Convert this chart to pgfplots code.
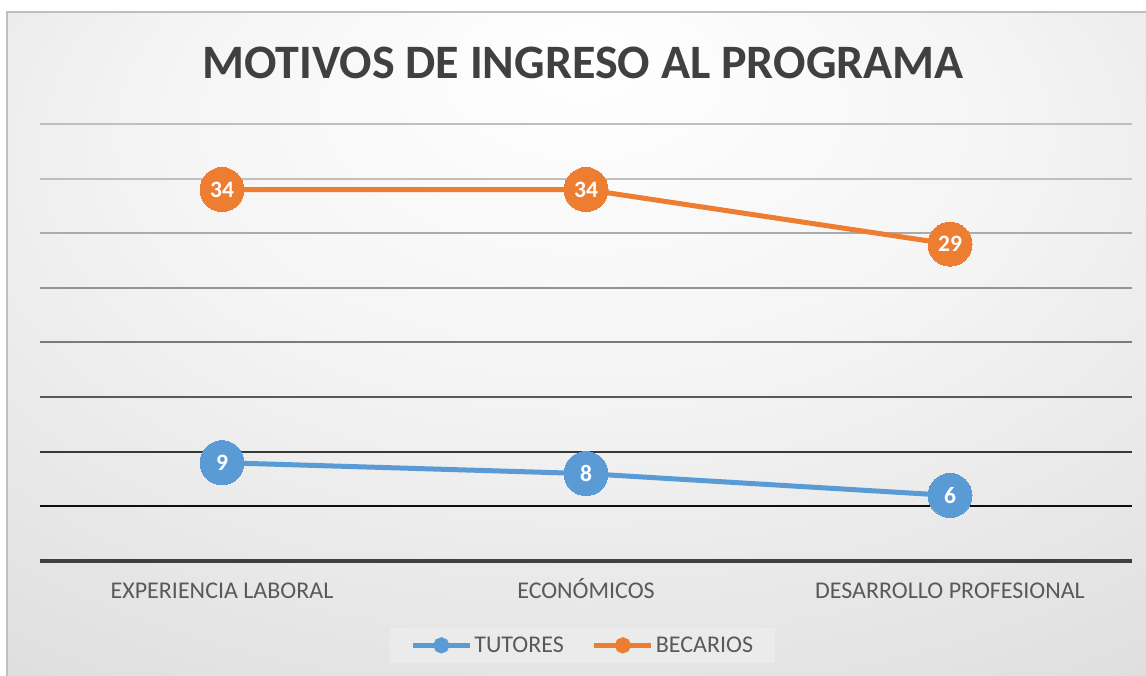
\documentclass[border=0pt]{standalone}
\usepackage{pgfplots}
\pgfplotsset{compat=1.18}
\usepackage{fontspec}
\setmainfont{Carlito}
\definecolor{tutblue}{HTML}{5B9BD5}
\definecolor{becorange}{HTML}{ED7D31}
\definecolor{txtgray}{HTML}{595959}
\definecolor{titlegray}{HTML}{404040}
\definecolor{framegray}{HTML}{BFBFBF}
\definecolor{legfill}{HTML}{EBEBEB}
\pgfdeclareradialshading{chartbg}{\pgfpoint{0bp}{22bp}}{%
  color(0bp)=(white); color(18bp)=(white!96!black); color(45bp)=(white!86!black); color(70bp)=(white!82!black)}

\begin{document}
\begin{tikzpicture}[x=1pt,y=1pt]
\useasboundingbox (0,0) rectangle (1146,676);
\clip (0,0) rectangle (1146,676);
\fill[white] (0,0) rectangle (1146,676);
\shade[shading=chartbg] (7,-10) rectangle (1160,664);
\draw[framegray, line width=1.5pt] (7,-10) -- (7,664) -- (1160,664);

\begin{axis}[
  at={(40pt,115pt)}, anchor=south west,
  scale only axis, width=1092pt, height=437pt,
  xmin=-0.5, xmax=2.5, ymin=0, ymax=40,
  axis line style={draw=none},
  xtick={0,1,2},
  xticklabels={EXPERIENCIA LABORAL, ECONÓMICOS, DESARROLLO PROFESIONAL},
  ytick=\empty,
  major tick length=0pt,
  xticklabel style={font=\fontsize{24}{24}\selectfont, text=txtgray, anchor=base, yshift=-38pt},
  clip=false,
  /pgf/number format/assume math mode=true,
  nodes near coords,
  every node near coord/.append style={anchor=center, text=white, font=\bfseries\fontsize{23.5}{23.5}\selectfont},
  legend columns=2,
  legend style={at={(0.497,-0.193)}, anchor=center, draw=none, fill=legfill,
    font=\fontsize{24}{24}\selectfont, text=txtgray, inner xsep=20pt, inner ysep=7pt,
    /tikz/every even column/.append style={column sep=26pt}},
  legend image code/.code={
    \draw[#1, mark=none] (0pt,0pt) -- (57pt,0pt);
    \fill[#1] (28.5pt,0pt) circle (5.5pt);
  },
]
% gridlines, darker toward the bottom
\draw[framegray, line width=2pt] (axis cs:-0.5,40) -- (axis cs:2.5,40);
\draw[white!75!black, line width=2pt] (axis cs:-0.5,35) -- (axis cs:2.5,35);
\draw[white!67!black, line width=2pt] (axis cs:-0.5,30) -- (axis cs:2.5,30);
\draw[white!58!black, line width=2pt] (axis cs:-0.5,25) -- (axis cs:2.5,25);
\draw[white!48!black, line width=2pt] (axis cs:-0.5,20) -- (axis cs:2.5,20);
\draw[white!35!black, line width=2pt] (axis cs:-0.5,15) -- (axis cs:2.5,15);
\draw[white!22!black, line width=2pt] (axis cs:-0.5,10) -- (axis cs:2.5,10);
\draw[white!6!black, line width=2pt] (axis cs:-0.5,5) -- (axis cs:2.5,5);
\draw[titlegray, line width=3.5pt] (axis cs:-0.5,0) -- (axis cs:2.5,0);

\addplot[tutblue, line width=5pt, mark=*, mark size=22pt, mark options={line width=0pt}]
  coordinates {(0,9) (1,8) (2,6)};
\addlegendentry{TUTORES}
\addplot[becorange, line width=5pt, mark=*, mark size=22pt, mark options={line width=0pt}]
  coordinates {(0,34) (1,34) (2,29)};
\addlegendentry{BECARIOS}
\end{axis}

\node[font=\bfseries\fontsize{48}{48}\selectfont, text=titlegray] at (583,613) {MOTIVOS DE INGRESO AL PROGRAMA};
\end{tikzpicture}
\end{document}
